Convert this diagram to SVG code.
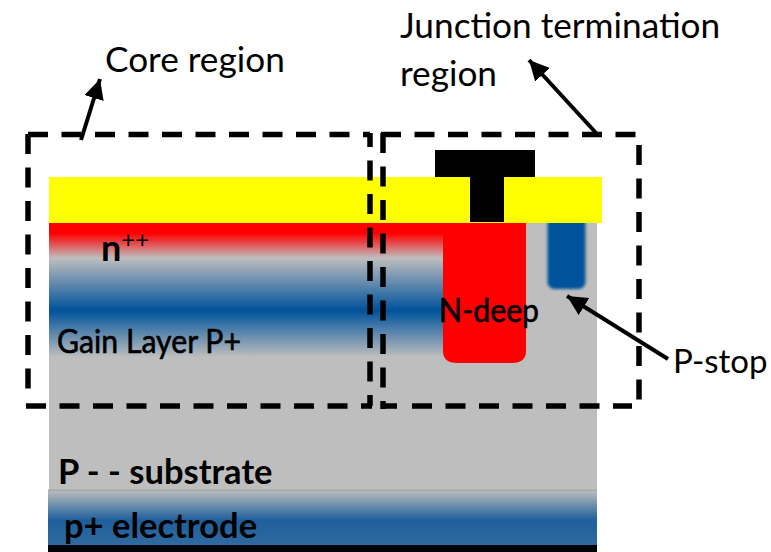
<svg xmlns="http://www.w3.org/2000/svg" width="771" height="552" viewBox="0 0 771 552">
<style>
text{font-family:"Lato","Open Sans",sans-serif;fill:#000}
.l{font-size:35.200px}
.b{font-weight:700;font-size:34.500px}
.t{stroke:#000;stroke-width:.6}
.d{fill:none;stroke:#000;stroke-width:5.5;stroke-dasharray:20 13.5}
.a{fill:none;stroke:#000;stroke-width:4;marker-end:url(#h)}
</style>
<defs>
<marker id="h" markerUnits="userSpaceOnUse" markerWidth="24" markerHeight="24" refX="20" refY="10" orient="auto"><path d="M0 0L20 10L0 20z" fill="#000"/></marker>
<linearGradient id="gn" x1="0" y1="0" x2="0" y2="1"><stop offset="0" stop-color="#bebebe"/><stop offset=".53" stop-color="#00529b"/><stop offset="1" stop-color="#bebebe"/></linearGradient>
<linearGradient id="gr" x1="0" y1="0" x2="0" y2="1"><stop offset="0" stop-color="#f00"/><stop offset=".3" stop-color="#f00"/><stop offset="1" stop-color="#bebebe"/></linearGradient>
<linearGradient id="ge" x1="0" y1="0" x2="0" y2="1"><stop offset="0" stop-color="#bebebe"/><stop offset=".55" stop-color="#1f5f9c"/><stop offset="1" stop-color="#2f6aa0"/></linearGradient>
<filter id="bl" x="-20%" y="-20%" width="140%" height="140%"><feGaussianBlur stdDeviation="1.500"/></filter>
</defs>
<g id="substrate"><rect x="49" y="222" width="548" height="268" fill="#bebebe"/><text class="b" x="58" y="484">P - - substrate</text></g>
<g id="n-layer"><rect x="49" y="223" width="400" height="35" fill="url(#gr)"/></g>
<g id="gain-layer"><rect x="49" y="258" width="400" height="99" fill="url(#gn)"/></g>
<g id="electrode"><rect x="48" y="490" width="549" height="55" fill="url(#ge)"/><rect x="48" y="489.500" width="549" height="1.500" fill="#a8a8a8"/><rect x="48" y="545" width="549" height="7" fill="#000"/><text class="b" x="64" y="538">p+ electrode</text></g>
<g id="n-deep"><path d="M443 222H526V351Q526 363 512 363H457Q443 363 443 351Z" fill="#f00"/></g>
<g id="p-stop"><rect x="547.500" y="216" width="38" height="73" rx="7" fill="#00529b" filter="url(#bl)"/></g>
<g id="oxide"><rect x="49" y="177" width="553" height="46" fill="#ff0"/></g>
<g id="contact"><path d="M435 150H535V177H504V222H470V177H435Z" fill="#000"/></g>
<g id="labels">
<text x="101" y="261" font-size="36" font-weight="700">n<tspan font-size="24" font-weight="400" dy="-13">++</tspan></text>
<text class="t" x="57" y="353" font-size="32" textLength="184" lengthAdjust="spacingAndGlyphs">Gain Layer  P+</text>
<text class="t" x="439" y="322" font-size="33" textLength="100" lengthAdjust="spacingAndGlyphs">N-deep</text>
</g>
<g id="core-region"><path class="d" d="M28 134.500H370M28 134V391M26 406H372"/><path class="d" d="M370 133V406" stroke-dashoffset="6"/><text class="l" x="105" y="72">Core region</text></g>
<g id="junction-termination-region"><path class="d" d="M381 134.500H640M639 145V401M383 133V409M381 406H397"/><path class="d" d="M412 406H632"/><text class="l" x="400" y="38">Junction termination</text><text class="l" x="400" y="86">region</text></g>
<g id="p-stop-label"><text x="673" y="373" font-size="33">P-stop</text></g>
<g id="connectors">
<path class="a" d="M81 140L100 79"/>
<path class="a" d="M597 134L529 60"/>
<path class="a" d="M668 359L567 296"/>
</g>
</svg>
